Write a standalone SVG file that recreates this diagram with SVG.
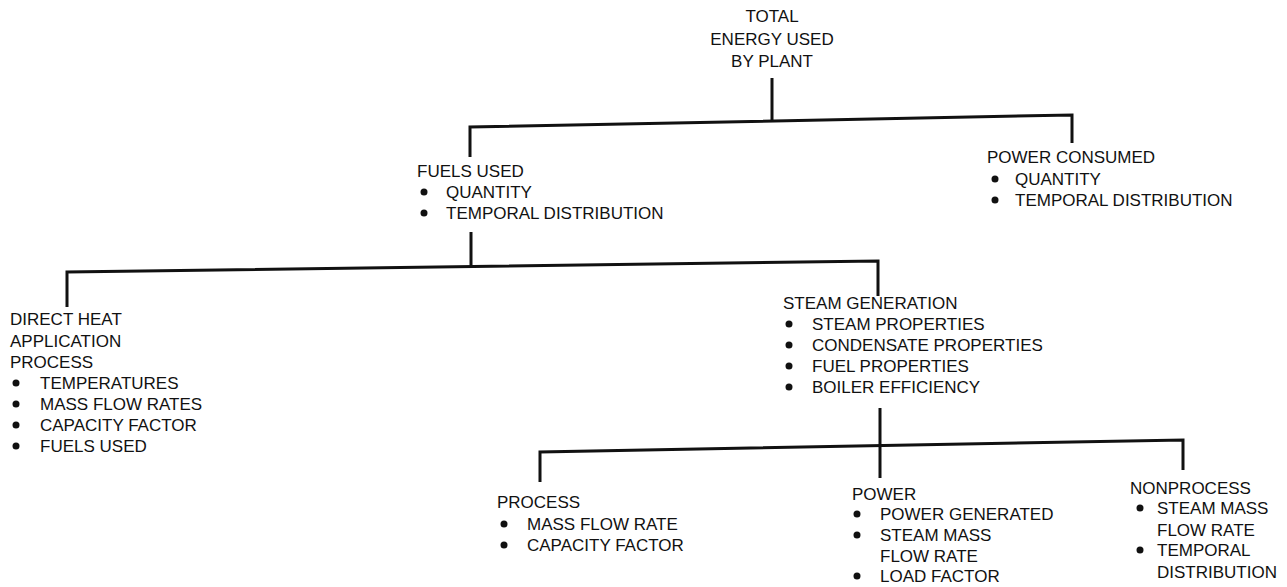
<svg xmlns="http://www.w3.org/2000/svg" width="1287" height="587" viewBox="0 0 1287 587">
<style>
text{font-family:"Liberation Sans",Arial,sans-serif;font-size:17px;fill:#111}
.c{text-anchor:middle}
.ln{stroke:#111;stroke-width:3;fill:none;stroke-linecap:butt;stroke-linejoin:miter}
.b{fill:#111}
</style>
<rect width="1287" height="587" fill="#fff"/>
<g id="connectors">
<path class="ln" d="M772,78 L772,122"/>
<path class="ln" d="M470,157 L470,127 L1072,115 L1072,143"/>
<path class="ln" d="M471,232 L471,267"/>
<path class="ln" d="M67,307 L67,272 L878,261 L878,296"/>
<path class="ln" d="M880,408 L880,478"/>
<path class="ln" d="M540,482 L540,452 L1183,440 L1183,470"/>
</g>
<g id="total">
<text class="c" x="772" y="22">TOTAL</text>
<text class="c" x="772" y="45">ENERGY USED</text>
<text class="c" x="772" y="67">BY PLANT</text>
</g>
<g id="fuels">
<text x="417" y="177">FUELS USED</text>
<circle class="b" cx="424" cy="192" r="3.5"/><text x="446" y="198">QUANTITY</text>
<circle class="b" cx="424" cy="213" r="3.5"/><text x="446" y="219">TEMPORAL DISTRIBUTION</text>
</g>
<g id="power-consumed">
<text x="987" y="163">POWER CONSUMED</text>
<circle class="b" cx="995" cy="179" r="3.5"/><text x="1015" y="185">QUANTITY</text>
<circle class="b" cx="995" cy="200" r="3.5"/><text x="1015" y="206">TEMPORAL DISTRIBUTION</text>
</g>
<g id="direct-heat">
<text x="10" y="325">DIRECT HEAT</text>
<text x="10" y="347">APPLICATION</text>
<text x="10" y="368">PROCESS</text>
<circle class="b" cx="16" cy="383" r="3.5"/><text x="40" y="389">TEMPERATURES</text>
<circle class="b" cx="16" cy="404" r="3.5"/><text x="40" y="410">MASS FLOW RATES</text>
<circle class="b" cx="16" cy="425" r="3.5"/><text x="40" y="431">CAPACITY FACTOR</text>
<circle class="b" cx="16" cy="446" r="3.5"/><text x="40" y="452">FUELS USED</text>
</g>
<g id="steam-generation">
<text x="783" y="309">STEAM GENERATION</text>
<circle class="b" cx="789" cy="324" r="3.5"/><text x="812" y="330">STEAM PROPERTIES</text>
<circle class="b" cx="789" cy="345" r="3.5"/><text x="812" y="351">CONDENSATE PROPERTIES</text>
<circle class="b" cx="789" cy="366" r="3.5"/><text x="812" y="372">FUEL PROPERTIES</text>
<circle class="b" cx="789" cy="387" r="3.5"/><text x="812" y="393">BOILER EFFICIENCY</text>
</g>
<g id="process">
<text x="497" y="508">PROCESS</text>
<circle class="b" cx="504" cy="524" r="3.5"/><text x="527" y="530">MASS FLOW RATE</text>
<circle class="b" cx="504" cy="545" r="3.5"/><text x="527" y="551">CAPACITY FACTOR</text>
</g>
<g id="power">
<text x="852" y="500">POWER</text>
<circle class="b" cx="857" cy="514" r="3.5"/><text x="880" y="520">POWER GENERATED</text>
<circle class="b" cx="857" cy="535" r="3.5"/><text x="880" y="541">STEAM MASS</text>
<text x="880" y="562">FLOW RATE</text>
<circle class="b" cx="857" cy="576" r="3.5"/><text x="880" y="582">LOAD FACTOR</text>
</g>
<g id="nonprocess">
<text x="1130" y="494">NONPROCESS</text>
<circle class="b" cx="1140" cy="508" r="3.5"/><text x="1157" y="514">STEAM MASS</text>
<text x="1157" y="536">FLOW RATE</text>
<circle class="b" cx="1140" cy="550" r="3.5"/><text x="1157" y="556">TEMPORAL</text>
<text x="1157" y="578">DISTRIBUTION</text>
</g>
</svg>
